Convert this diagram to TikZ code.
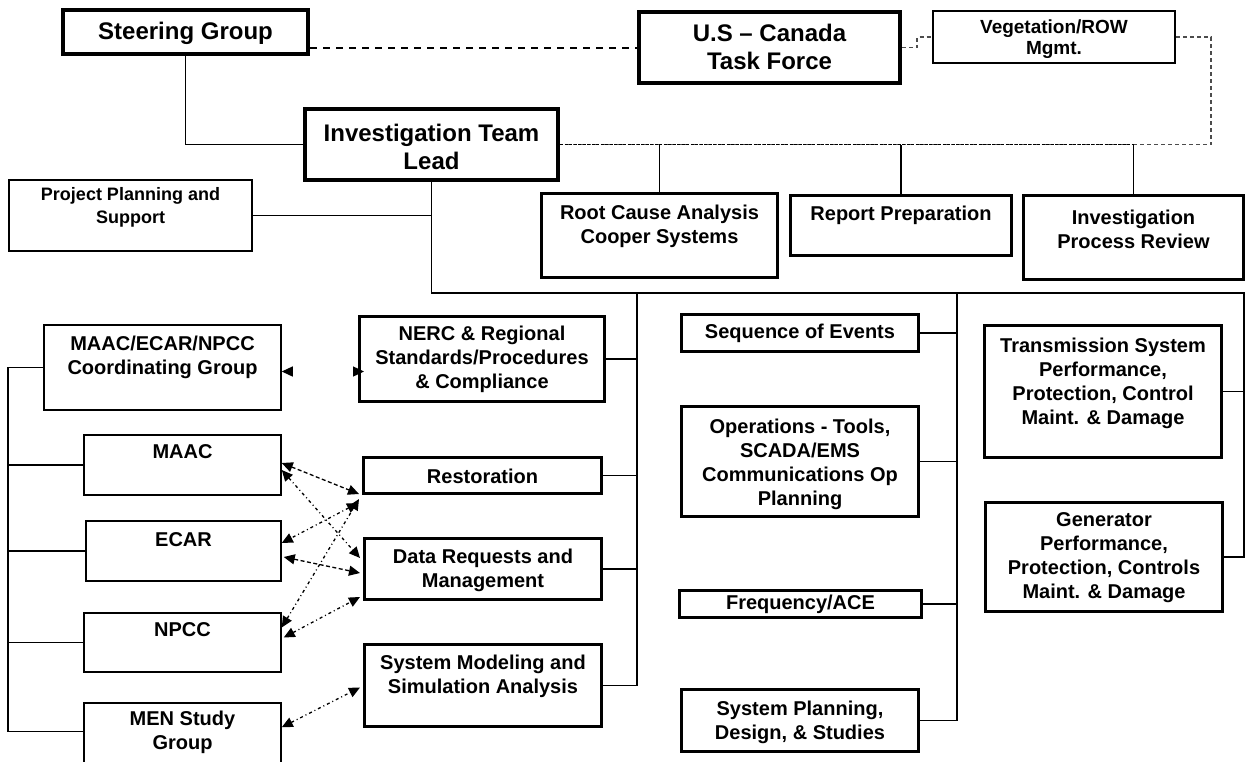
\documentclass[tikz,border=0pt]{standalone}
\usepackage{fontspec}
\setmainfont{Liberation Sans}
\usetikzlibrary{arrows.meta,calc}
\begin{document}
\begin{tikzpicture}[x=1pt,y=-1pt,
  bx/.style={draw=black, rectangle, inner sep=0pt, fill=white},
  sz/.style 2 args={minimum width=#1pt, minimum height=#2pt},
  thickbx/.style={bx, line width=4pt},
  medbx/.style={bx, line width=3pt},
  thinbx/.style={bx, line width=2pt},
  finebx/.style={bx, line width=1.5pt},
  ttl/.style={font=\fontsize{24}{28}\selectfont\bfseries, align=center, inner sep=0pt},
  lbl/.style={font=\fontsize{20}{24}\selectfont\bfseries, align=center, inner sep=0pt},
  smlbl/.style={font=\fontsize{18}{23}\selectfont\bfseries, align=center, inner sep=0pt},
  tree/.style={line width=1.4pt, draw=black},
  sgdash/.style={line width=2pt, dash pattern=on 7pt off 6pt},
  vdash/.style={line width=1.3pt, draw=black!70, dash pattern=on 4pt off 3pt},
  ddash/.style={line width=1.4pt, dash pattern=on 3pt off 1.5pt},
  biarrow/.style={{Triangle[length=11pt,width=10pt]}-{Triangle[length=11pt,width=10pt]}},
  adash/.style={biarrow, line width=1.3pt, dash pattern=on 4pt off 2.5pt},
  adot/.style={biarrow, line width=1.3pt, dash pattern=on 3pt off 3pt on 1pt off 3pt},
  aghost/.style={biarrow, line width=1.3pt, dash pattern=on 0pt off 500pt}
]
\useasboundingbox (0,0) rectangle (1246,761);
\clip (0,0) rectangle (1246,761);
\fill[white] (0,0) rectangle (1246,761);

% ---------- boxes ----------
\node[thickbx, sz={245}{44}] (sg) at (185.5,32) {};
\node[thickbx, sz={261}{71}] (tf) at (769.5,47.5) {};
\node[thinbx, sz={242}{52}] (veg) at (1054,37) {};
\node[thickbx, sz={253}{71}] (itl) at (431.5,144.5) {};
\node[thinbx, sz={243}{71}] (pps) at (130.5,215.5) {};
\node[medbx, sz={236}{84}] (rc) at (659.5,235.5) {};
\node[medbx, sz={221}{60}] (rp) at (901,225.5) {};
\node[medbx, sz={220}{84}] (ipr) at (1133.5,237.5) {};

\node[finebx, sz={237}{85}] (mecn) at (162.5,367.5) {};
\node[finebx, sz={197}{60}] (maac) at (182.5,465) {};
\node[finebx, sz={195}{60}] (ecar) at (183.5,551) {};
\node[finebx, sz={197}{59}] (npcc) at (182.5,642.5) {};
\node[finebx, sz={197}{86}] (men) at (182.5,746) {};

\node[medbx, sz={245}{85}] (nerc) at (482,359) {};
\node[medbx, sz={238}{36}] (rest) at (482.5,475.5) {};
\node[medbx, sz={237}{61}] (dr) at (483,569) {};
\node[medbx, sz={237}{82}] (sm) at (483,685.5) {};

\node[medbx, sz={237}{37}] (soe) at (800,333) {};
\node[medbx, sz={237}{110}] (ops) at (800,461.5) {};
\node[medbx, sz={242}{27}] (freq) at (800.5,604) {};
\node[medbx, sz={237}{62}] (sp) at (800,720.5) {};

\node[medbx, sz={237}{132}] (tsys) at (1103,391.5) {};
\node[medbx, sz={237}{109}] (gen) at (1104,557) {};

% ---------- texts ----------
\node[ttl] (sg-t) at (185.5,33) {Steering Group};
\node[ttl] (tf-t) at (769.5,47) {U.S -- Canada\\Task Force};
\node[ttl] (itl-t) at (431.5,147) {Investigation Team\\Lead};
\node[font=\fontsize{19}{21}\selectfont\bfseries, align=center, inner sep=0pt] (veg-t) at (1054,39) {Vegetation/ROW\\Mgmt.};
\node[smlbl] (pps-t) at (130.5,207) {Project Planning and\\Support};
\node[lbl] (rc-t) at (659.5,226) {Root Cause Analysis\\Cooper Systems};
\node[lbl] (rp-t) at (901,215) {Report Preparation};
\node[lbl] (ipr-t) at (1133.5,229) {Investigation\\Process Review};

\node[lbl] (mecn-t) at (162.5,357) {MAAC/ECAR/NPCC\\Coordinating Group};
\node[lbl] (maac-t) at (182.5,452) {MAAC};
\node[lbl] (ecar-t) at (183.5,540) {ECAR};
\node[lbl] (npcc-t) at (182.5,630) {NPCC};
\node[lbl] (men-t) at (182.5,732) {MEN Study\\Group};

\node[lbl] (nerc-t) at (482,359) {NERC \& Regional\\Standards/Procedures\\\& Compliance};
\node[lbl] (rest-t) at (482.5,476) {Restoration};
\node[lbl] (dr-t) at (483,570) {Data Requests and\\Management};
\node[lbl] (sm-t) at (483,676) {System Modeling and\\Simulation Analysis};

\node[lbl] (soe-t) at (800,333) {Sequence of Events};
\node[lbl] (ops-t) at (800,464) {Operations - Tools,\\SCADA/EMS\\Communications Op\\Planning};
\node[lbl] (freq-t) at (800.5,604) {Frequency/ACE};
\node[lbl] (sp-t) at (800,722) {System Planning,\\Design, \& Studies};

\node[lbl] (tsys-t) at (1103,383) {Transmission System\\Performance,\\Protection, Control\\Maint. \& Damage};
\node[lbl] (gen-t) at (1104,558) {Generator\\Performance,\\Protection, Controls\\Maint. \& Damage};

% ---------- top connectors ----------
\draw[sgdash] (sg.east |- tf.west) -- (tf.west);
\draw[vdash] (tf.east) -- ++(15,0) |- (veg.west);
\draw[vdash] (veg.east) -- ++(35,0) |- (itl.east);
\draw[ddash] (itl.east) -- (ipr.north |- itl.east);
\draw[tree] (rc.north) -- (rc.north |- itl.east);
\draw[tree] (rp.north) -- (rp.north |- itl.east);
\draw[tree] (ipr.north) -- (ipr.north |- itl.east);
\draw[tree] (sg.south) |- (itl.west);
\draw[tree] (pps.east) -- (pps.east -| itl.south);

% ---------- bus ----------
\coordinate (bR) at (1244,293);
\coordinate (bL) at (637,293);
\coordinate (bM) at (957,293);
\draw[tree] (itl.south) |- (bR) |- (gen.east);
\draw[tree] (tsys.east) -- (tsys.east -| bR);
\draw[tree] (bL) |- (sm.east);
\draw[tree] (nerc.east) -- (nerc.east -| bL);
\draw[tree] (rest.east) -- (rest.east -| bL);
\draw[tree] (dr.east) -- (dr.east -| bL);
\draw[tree] (bM) |- (sp.east);
\draw[tree] (soe.east) -- (soe.east -| bM);
\draw[tree] (ops.east) -- (ops.east -| bM);
\draw[tree] (freq.east) -- (freq.east -| bM);

% ---------- left group ----------
\coordinate (lv) at (8,367.5);
\draw[tree] (mecn.west) -- (lv) |- ([yshift=-29pt]men.north west);
\draw[tree] (maac.west) -- (maac.west -| lv);
\draw[tree] (ecar.west) -- (ecar.west -| lv);
\draw[tree] (npcc.west) -- (npcc.west -| lv);

% ---------- coordination arrows ----------
\draw[aghost] ([yshift=-4pt]mecn.east) -- ([xshift=6pt,yshift=-4pt]mecn.east -| nerc.west);
\draw[adash] ([yshift=2pt]maac.east) -- ([xshift=-3pt,yshift=1pt]rest.south west);
\draw[adot] ([yshift=-5pt]maac.east) -- ([xshift=-3pt,yshift=11pt]dr.west);
\draw[adot] ([xshift=-4pt,yshift=-8pt]rest.south west) -- ([yshift=8pt]ecar.east);
\draw[adash] ([xshift=2pt,yshift=-6pt]ecar.east) -- ([xshift=-3pt,yshift=-4pt]dr.west);
\draw[adot] ([yshift=15pt]npcc.east) -- ([xshift=-3pt,yshift=-4pt]rest.south west);
\draw[adot] ([xshift=2pt,yshift=5pt]npcc.east) -- ([xshift=-3pt,yshift=4pt]dr.south west);
\draw[adot] ([yshift=-25pt]men.north east) -- ([xshift=-3pt,yshift=-2pt]sm.west);
\end{tikzpicture}
\end{document}
